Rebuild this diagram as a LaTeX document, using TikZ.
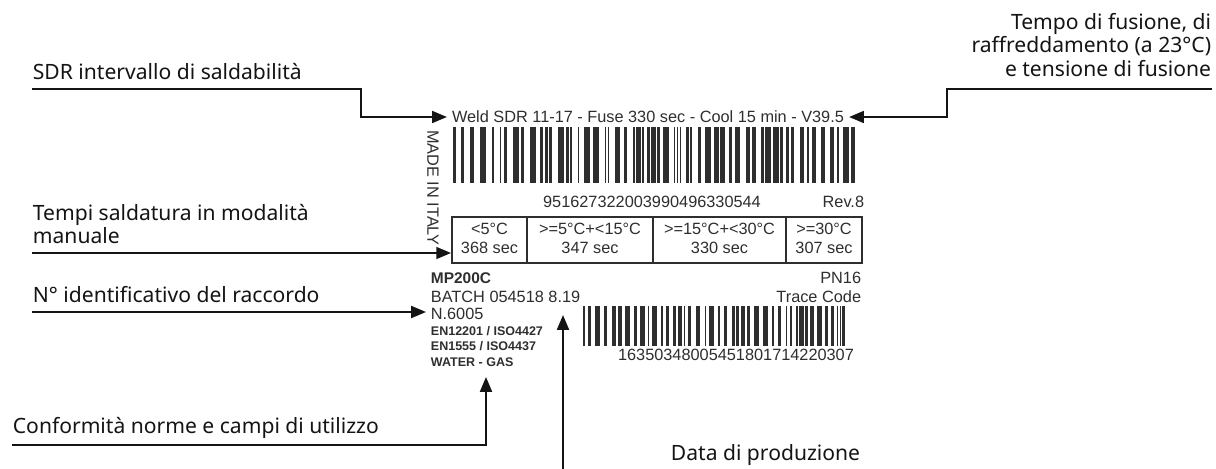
\documentclass[tikz,border=0pt]{standalone}
\usepackage{fontspec}
\setmainfont{Noto Sans}
\newfontfamily\labelfont{Liberation Sans}
\usetikzlibrary{arrows.meta, positioning, calc, fit}
\definecolor{ink}{HTML}{141414}
\definecolor{lblgray}{HTML}{2E2E2E}

\begin{document}
\begin{tikzpicture}[
    x=0.025cm, y=-0.025cm,
    >={Triangle[length=10.5pt, width=8.5pt]},
    line width=1.3pt,
    note/.style={font=\fontsize{15}{17}\selectfont, inner sep=0pt, text=ink},
    tag/.style={font=\labelfont\fontsize{11.6}{13.6}\selectfont, inner sep=0pt, text=lblgray},
    tagsmall/.style={font=\labelfont\bfseries\fontsize{8.9}{10}\selectfont, inner sep=0pt, text=lblgray},
    callout/.style={->, draw=ink, line width=1.3pt},
  ]
  \useasboundingbox (0,0) rectangle (1216,468);

  % Label header line
  \node[tag, inner xsep=3pt] (weld) at (648,117)
    {Weld SDR 11-17 - Fuse 330 sec - Cool 15 min - V39.5};
  \node[tag, rotate=-90] (made) at (433,188) {MADE IN ITALY};

  % Main barcode (bars and gaps of 1 to 4 modules)
  \pgfmathsetseed{4213}
  \xdef\barx{453}
  \foreach \k in {1,...,200}{
    \pgfmathrandominteger{\w}{1}{4}
    \pgfmathsetmacro{\barend}{\barx+1.5*\w}
    \ifodd\k
      \pgfmathparse{\barend<855 ? 1 : 0}
      \ifnum\pgfmathresult=1 \fill[lblgray] (\barx,127) rectangle (\barend,183); \fi
    \fi
    \xdef\barx{\barend}
  }
  \fill[lblgray] (852,127) rectangle (855,183);
  \node[tag] (code) at (652,202) {951627322003990496330544};
  \node[tag, anchor=east] (rev) at (865,202) {Rev.8};

  % Manual welding table
  \node[draw=lblgray, line width=1.4pt, inner sep=0pt,
        fit={(452,217) (862,263)}] (tbl) {};
  \foreach \xd in {527,653,786}
    \draw[lblgray, line width=1pt] (\xd,217) -- (\xd,263);
  \node[tag, align=center] (cold) at (489.5,238.5) {<5°C\\368 sec};
  \node[tag, align=center] (cool) at (590,238.5) {>=5°C+<15°C\\347 sec};
  \node[tag, align=center] (mild) at (719.5,238.5) {>=15°C+<30°C\\330 sec};
  \node[tag, align=center] (warm) at (824,238.5) {>=30°C\\307 sec};

  % Fitting data
  \node[tag, anchor=west, font=\labelfont\bfseries\fontsize{11}{13}\selectfont] (model) at (430,278) {MP200C};
  \node[tag, anchor=east] (pn) at (862,278) {PN16};
  \node[tag, anchor=west] (batch) at (430,297) {BATCH 054518 8.19};
  \node[tag, anchor=east] (trace) at (862,297) {Trace Code};
  \node[tag, anchor=west, inner xsep=2.8pt] (nnum) at (426,314) {N.6005};
  \node[tagsmall, anchor=west] (norm1) at (430,331) {EN12201 / ISO4427};
  \node[tagsmall, anchor=west] (norm2) at (430,346) {EN1555 / ISO4437};
  \node[tagsmall, anchor=west] (use) at (430,362) {WATER - GAS};

  % Trace barcode
  \pgfmathsetseed{917}
  \xdef\barx{583}
  \foreach \k in {1,...,160}{
    \pgfmathrandominteger{\w}{1}{3}
    \pgfmathsetmacro{\barend}{\barx+1.5*\w}
    \ifodd\k
      \pgfmathparse{\barend<845 ? 1 : 0}
      \ifnum\pgfmathresult=1 \fill[lblgray] (\barx,306) rectangle (\barend,346); \fi
    \fi
    \xdef\barx{\barend}
  }
  \fill[lblgray] (842,306) rectangle (845,346);
  \node[tag] (tcode) at (736,355) {16350348005451801714220307};

  % Notes
  \node[note, anchor=west] (sdrlbl) at (32,72) {SDR intervallo di saldabilità};
  \node[note, anchor=north east, align=right] (tempolbl) at (1212,12)
    {Tempo di fusione, di\\raffreddamento (a 23°C)\\e tensione di fusione};
  \node[note, anchor=west, align=left] (tempilbl) at (32,224)
    {Tempi saldatura in modalità\\manuale};
  \node[note, anchor=west] (nlbl) at (32,295) {N° identificativo del raccordo};
  \node[note, anchor=west] (conflbl) at (12,428) {Conformità norme e campi di utilizzo};
  \node[note, anchor=west] (datalbl) at (670,455) {Data di produzione};

  % Connectors
  \coordinate (sdrfoot) at (32,89);
  \coordinate (sdrbend) at (361,89);
  \draw[callout] (sdrfoot) -- (sdrbend) |- (weld.west);
  \coordinate (tempofoot) at (1212,89);
  \coordinate (tempobend) at (947,89);
  \draw[callout] (tempofoot) -- (tempobend) |- (weld.east);
  \coordinate (tempifoot) at (32,253);
  \draw[callout] (tempifoot) -- (tempifoot -| tbl.west);
  \coordinate (nfoot) at (32,312);
  \draw[callout] (nfoot) -- (nfoot -| nnum.west);
  \coordinate (conffoot) at (12,445);
  \coordinate (conftip) at (486,377);
  \draw[callout] (conffoot) -| (conftip);
  \coordinate (datefoot) at (563,470);
  \coordinate (datetip) at (563,315);
  \draw[callout] (datefoot) -- (datetip);

\end{tikzpicture}
\end{document}
